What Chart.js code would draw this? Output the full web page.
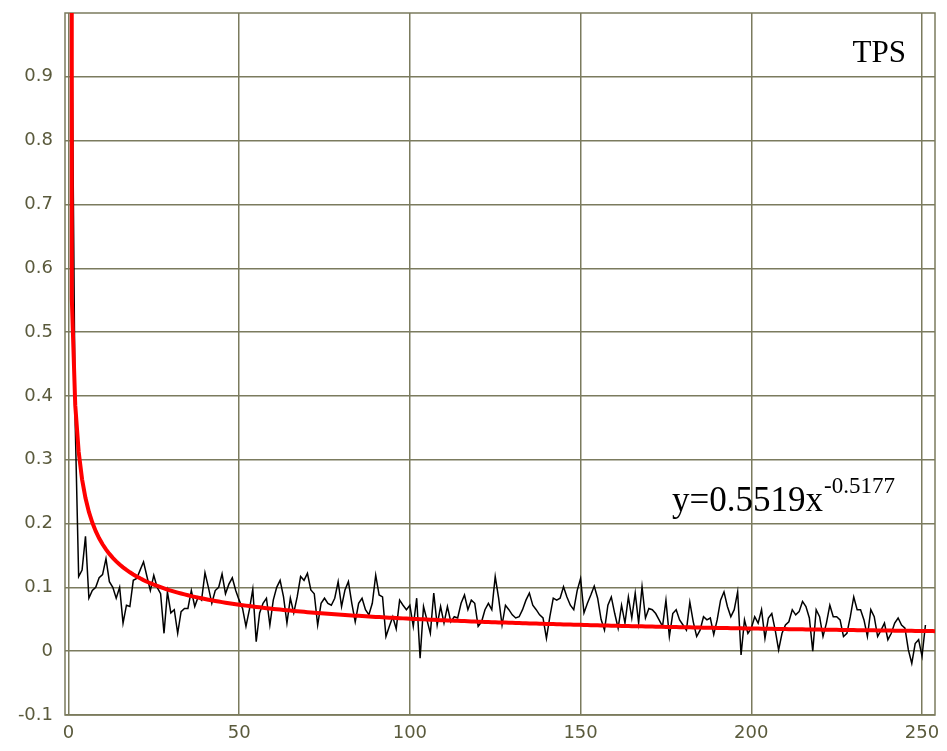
<!DOCTYPE html>
<html>
<head>
<meta charset="utf-8">
<script src="https://cdn.jsdelivr.net/npm/chart.js@4"></script>
<style>
  html, body { margin: 0; padding: 0; background: #fff; }
  #wrap { width: 947px; height: 751px; }
</style>
</head>
<body>
<div id="wrap"><canvas id="grafikTps" width="947" height="751"></canvas></div>
<script>
// TPS measurements, one value per step, first step is x = 1
const tpsStart = 1;
const tpsValues = [
  1.0, 0.354, 0.117, 0.127, 0.18, 0.083, 0.095, 0.10, 0.115, 0.12,
  0.145, 0.109, 0.10, 0.083, 0.10, 0.044, 0.072, 0.07, 0.111, 0.114,
  0.127, 0.14, 0.117, 0.095, 0.119, 0.10, 0.09, 0.028, 0.093, 0.06,
  0.065, 0.028, 0.062, 0.067, 0.067, 0.095, 0.07, 0.085, 0.08, 0.123,
  0.10, 0.075, 0.095, 0.10, 0.121, 0.09, 0.105, 0.115, 0.095, 0.08,
  0.067, 0.039, 0.065, 0.097, 0.015, 0.06, 0.075, 0.083, 0.041, 0.08,
  0.10, 0.111, 0.085, 0.044, 0.083, 0.06, 0.085, 0.117, 0.111, 0.122,
  0.096, 0.09, 0.041, 0.075, 0.083, 0.075, 0.072, 0.083, 0.109, 0.07,
  0.096, 0.109, 0.075, 0.046, 0.075, 0.083, 0.065, 0.057, 0.075, 0.119,
  0.088, 0.085, 0.023, 0.039, 0.054, 0.035, 0.08, 0.072, 0.065, 0.072,
  0.039, 0.083, -0.011, 0.07, 0.049, 0.028, 0.091, 0.041, 0.07, 0.044,
  0.07, 0.046, 0.054, 0.052, 0.075, 0.088, 0.065, 0.08, 0.075, 0.039,
  0.046, 0.065, 0.075, 0.065, 0.117, 0.083, 0.041, 0.072, 0.065, 0.057,
  0.052, 0.054, 0.065, 0.08, 0.091, 0.072, 0.065, 0.057, 0.052, 0.02,
  0.054, 0.083, 0.08, 0.083, 0.101, 0.085, 0.072, 0.065, 0.095, 0.114,
  0.06, 0.075, 0.088, 0.102, 0.083, 0.05, 0.033, 0.072, 0.085, 0.059,
  0.036, 0.072, 0.044, 0.085, 0.052, 0.091, 0.044, 0.101, 0.052, 0.067,
  0.065, 0.059, 0.049, 0.039, 0.08, 0.023, 0.059, 0.065, 0.049, 0.041,
  0.033, 0.077, 0.046, 0.023, 0.033, 0.054, 0.049, 0.052, 0.026, 0.049,
  0.08, 0.093, 0.07, 0.054, 0.065, 0.093, -0.006, 0.049, 0.028, 0.036,
  0.054, 0.044, 0.065, 0.02, 0.052, 0.059, 0.033, 0.002, 0.028, 0.041,
  0.046, 0.065, 0.057, 0.062, 0.078, 0.07, 0.052, 0.0, 0.065, 0.054,
  0.023, 0.044, 0.072, 0.054, 0.054, 0.049, 0.023, 0.028, 0.054, 0.085,
  0.065, 0.065, 0.049, 0.023, 0.065, 0.054, 0.023, 0.033, 0.044, 0.018,
  0.028, 0.044, 0.052, 0.041, 0.036, 0.002, -0.019, 0.012, 0.018, -0.008,
  0.041
];

// power fit y = fitA * x^fitB, evaluated at each step (x near 0 stands in for the pole)
const fitA = 0.5519;
const fitB = -0.5177;
const fitFirstX = 0.001;
const fitLastStep = 254;

const xTicks = [0, 50, 100, 150, 200, 250];
const yTicks = [-0.1, 0, 0.1, 0.2, 0.3, 0.4, 0.5, 0.6, 0.7, 0.8, 0.9];

const eqText = 'y=' + fitA + 'x';
const eqPower = String(fitB);
const seriesName = 'TPS';

const gridColor = '#7b7b5e';
const tickColor = '#5a5a3c';

const tpsPoints = tpsValues.map((v, i) => ({ x: tpsStart + i, y: v }));
const fitX = [fitFirstX];
for (let s = 1; s <= fitLastStep; s++) fitX.push(s);
const fitPoints = fitX.map(x => ({ x: x, y: fitA * Math.pow(x, fitB) }));

// frame round the plot area and the two texts inside it
const frameAndText = {
  id: 'frameAndText',
  beforeDatasetsDraw(chart) {
    const { ctx, chartArea: a } = chart;
    ctx.save();
    ctx.strokeStyle = gridColor;
    ctx.lineWidth = 1.5;
    ctx.strokeRect(a.left, a.top, a.right - a.left, a.bottom - a.top);
    ctx.restore();
  },
  afterDatasetsDraw(chart) {
    const { ctx } = chart;
    ctx.save();
    ctx.fillStyle = '#000';
    ctx.textBaseline = 'alphabetic';
    ctx.font = '31px "Liberation Serif"';
    ctx.textAlign = 'right';
    ctx.fillText(seriesName, 906, 62);

    ctx.textAlign = 'left';
    ctx.font = '35px "Liberation Serif"';
    ctx.fillText(eqText, 672, 511);
    const w = ctx.measureText(eqText).width;
    ctx.font = '23px "Liberation Serif"';
    ctx.fillText(eqPower, 672 + w + 1, 493);
    ctx.restore();
  }
};

new Chart(document.getElementById('grafikTps').getContext('2d'), {
  type: 'line',
  data: {
    datasets: [
      {
        label: 'fit',
        data: fitPoints,
        borderColor: '#ff0000',
        borderWidth: 4,
        pointRadius: 0,
        tension: 0,
        clip: 0
      },
      {
        label: seriesName,
        data: tpsPoints,
        borderColor: '#000000',
        borderWidth: 1.5,
        pointRadius: 0,
        tension: 0,
        clip: 0
      }
    ]
  },
  options: {
    responsive: false,
    animation: false,
    layout: { padding: { top: 13, right: 12, left: 0, bottom: 0 } },
    plugins: { legend: { display: false }, tooltip: { enabled: false } },
    scales: {
      x: {
        type: 'linear',
        min: -1,
        max: 253.8,
        afterBuildTicks: s => { s.ticks = xTicks.map(v => ({ value: v })); },
        afterFit: s => { s.height = 36; s.paddingLeft = 0; s.paddingRight = 0; },
        grid: { color: gridColor, lineWidth: 1.5, drawTicks: false },
        border: { display: false },
        ticks: {
          color: tickColor,
          font: { family: 'DejaVu Sans', size: 18 },
          padding: 8,
          maxRotation: 0,
          callback: v => String(v)
        }
      },
      y: {
        min: -0.1,
        max: 1.0,
        afterBuildTicks: s => { s.ticks = yTicks.map(v => ({ value: v })); },
        afterFit: s => { s.width = 65; s.paddingTop = 0; s.paddingBottom = 0; },
        grid: { color: gridColor, lineWidth: 1.5, drawTicks: false },
        border: { display: false },
        ticks: {
          color: tickColor,
          font: { family: 'DejaVu Sans', size: 18 },
          padding: 12,
          callback: v => String(Math.round(v * 10) / 10)
        }
      }
    }
  },
  plugins: [frameAndText]
});
</script>
</body>
</html>
